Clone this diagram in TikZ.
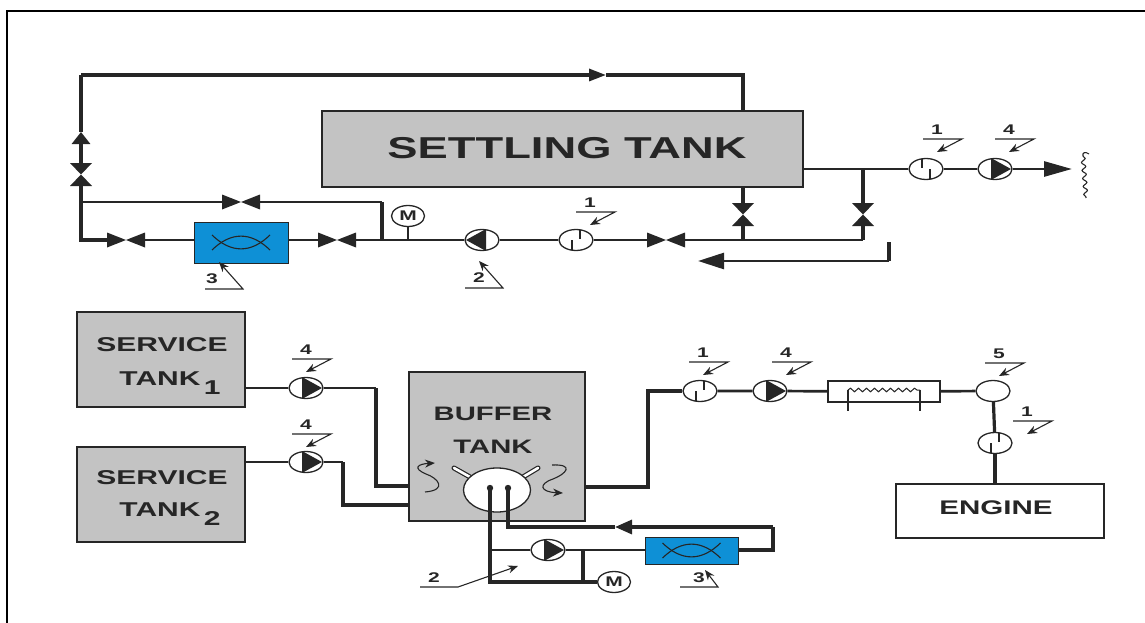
\documentclass[tikz,border=0pt]{standalone}
\usepackage{fontspec}
\setmainfont[FakeStretch=1.5]{Liberation Sans}
\usetikzlibrary{arrows.meta,shapes.geometric,decorations.pathmorphing}

\definecolor{ink}{HTML}{262626}
\definecolor{tankgray}{HTML}{C3C3C3}
\definecolor{coolblue}{HTML}{0E90D6}

\tikzset{
  pipe/.style={draw=ink,line width=2.7pt},
  heavypipe/.style={draw=ink,line width=3.2pt},
  flowtip/.style 2 args={-{Triangle[length=#1,width=#2]}},
  tank/.style={draw=ink,line width=1.4pt,fill=tankgray,inner sep=0pt},
  tanktext/.style={inner sep=0pt,font=\bfseries\fontsize{#1}{#1}\selectfont\color{ink}},
  cooler/.style={draw=ink,line width=1pt,fill=coolblue,inner sep=0pt,
    path picture={\begin{scope}[shift={(path picture bounding box.center)}]
      \draw[ink,line width=1.1pt] (-29,-7.5) .. controls (-10,11) and (10,11) .. (29,-7.5);
      \draw[ink,line width=1.1pt] (-29,7.5) .. controls (-10,-11) and (10,-11) .. (29,7.5);
    \end{scope}}},
  gauge/.style={ellipse,draw=ink,line width=1.3pt,fill=white,inner sep=0pt,minimum width=34pt,minimum height=21pt},
  meterA/.style={gauge,path picture={\begin{scope}[shift={(path picture bounding box.center)}]
      \draw[ink,line width=1.2pt] (-4,0) -- (-4,11) (4,-11) -- (4,-1);
    \end{scope}}},
  meterB/.style={gauge,path picture={\begin{scope}[shift={(path picture bounding box.center)}]
      \draw[ink,line width=1.2pt] (-4,-11) -- (-4,-1) (4,0) -- (4,11);
    \end{scope}}},
  pumpR/.style={gauge,path picture={\begin{scope}[shift={(path picture bounding box.center)}]
      \fill[ink] (-4,-11) -- (16,0) -- (-4,11) -- cycle;
    \end{scope}}},
  pumpL/.style={gauge,path picture={\begin{scope}[shift={(path picture bounding box.center)}]
      \fill[ink] (4,-11) -- (-16,0) -- (4,11) -- cycle;
    \end{scope}}},
  motor/.style={gauge,minimum width=33pt,minimum height=21pt,font=\bfseries\fontsize{14}{14}\selectfont\color{ink}},
  valveH/.style={inner sep=0pt,minimum width=38pt,minimum height=15pt,
    path picture={\begin{scope}[shift={(path picture bounding box.center)}]
      \fill[ink] (-19,-7.5) -- (19,7.5) -- (19,-7.5) -- (-19,7.5) -- cycle;
    \end{scope}}},
  valveV/.style={inner sep=0pt,minimum width=22pt,minimum height=23pt,
    path picture={\begin{scope}[shift={(path picture bounding box.center)}]
      \fill[ink] (-11,-11.5) -- (11,11.5) -- (-11,11.5) -- (11,-11.5) -- cycle;
    \end{scope}}},
  tagnum/.style={inner sep=0pt,font=\bfseries\fontsize{14}{14}\selectfont\color{ink}},
  leader/.style={draw=ink,line width=1.1pt},
  leadtip/.style={-{Stealth[length=10pt,width=8pt]}},
  % tag pointing down and left, placed by the left end of its rule
  pics/tagdown/.style={code={
    \node[tagnum] (-num) at (14,-9) {#1};
    \coordinate (-a) at (0,0);
    \coordinate (-b) at (39,0);
    \coordinate (-c) at (14,13);
    \draw[leader,leadtip] (-a) -- (-b) -- (-c);
  }},
  % tag pointing up and left, placed by the left end of its rule
  pics/tagup/.style 2 args={code={
    \node[tagnum] (-num) at (#2,-10) {#1};
    \coordinate (-a) at (0,0);
    \coordinate (-b) at (38,0);
    \coordinate (-c) at (14,-27);
    \draw[leader,leadtip] (-a) -- (-b) -- (-c);
  }},
}

\begin{document}
\begin{tikzpicture}[x=1pt,y=-1pt]

  \useasboundingbox (0,0) rectangle (1145,623);

  % Frame
  \coordinate (F1) at (7,623);
  \coordinate (F2) at (7,11);
  \coordinate (F3) at (1145,11);
  \draw[black,line width=1.2pt] (F1) -- (F2) -- (F3);

  % Tanks
  \node[tank,minimum width=481pt,minimum height=76pt] (settling) at (562.5,149) {};
  \node[tank,minimum width=168pt,minimum height=95pt] (service1) at (161,359.5) {};
  \node[tank,minimum width=168pt,minimum height=95pt] (service2) at (161,494.5) {};
  \node[tank,minimum width=176pt,minimum height=149pt] (buffer) at (497,446.5) {};
  \node[tank,fill=white,minimum width=208pt,minimum height=54pt] (engine) at (1000,511) {};

  % Tank names
  \node[tanktext=30.2] (settlingname) at (567,148) {SETTLING TANK};
  \node[tanktext=20] (s1a) at (162,345) {SERVICE};
  \node[tanktext=20] (s1b) at (170,383) {TANK\,\raisebox{-9pt}{1}};
  \node[tanktext=20] (s2a) at (162,478) {SERVICE};
  \node[tanktext=20] (s2b) at (170,514) {TANK\,\raisebox{-9pt}{2}};
  \node[tanktext=19.5] (b1) at (493,414) {BUFFER};
  \node[tanktext=19.5] (b2) at (493,447) {TANK};
  \node[tanktext=19.7] (enginename) at (996,508) {ENGINE};

  % Upper line, fittings
  \node[valveV] (vA) at (81,174.5) {};
  \node[valveH] (vB) at (241,202) {};
  \node[valveH] (vC) at (126,240) {};
  \node[cooler,minimum width=94pt,minimum height=41pt] (coolerA) at (241,242.5) {};
  \node[valveH] (vD) at (337,240) {};
  \node[motor] (motorA) at (408,216) {M};
  \node[pumpL] (pumpA) at (482,240) {};
  \node[meterA] (meterC) at (576,240) {};
  \node[valveH] (vE) at (666,240) {};
  \node[valveV] (vF) at (743,214.5) {};
  \node[valveV] (vG) at (863,214.5) {};
  \node[meterB] (meterD) at (926,169) {};
  \node[pumpR] (pumpB) at (995,169) {};

  % Upper line, corners
  \coordinate (topR) at (743,75);
  \coordinate (topL) at (81,75);
  \coordinate (topT) at (606,75);
  \coordinate (topIn) at (743,111);
  \coordinate (leftT) at (81,132);
  \coordinate (leftB) at (81,240);
  \coordinate (forkL) at (81,202);
  \coordinate (forkR) at (382,202);
  \coordinate (forkB) at (382,240);
  \coordinate (motorB) at (408,240);
  \coordinate (outF) at (743,187);
  \coordinate (joinF) at (743,240);
  \coordinate (joinG) at (863,240);
  \coordinate (outG) at (863,169);
  \coordinate (outR) at (803,169);
  \coordinate (endR) at (1072,169);
  \coordinate (retA) at (889,242);
  \coordinate (retB) at (889,261);
  \coordinate (retC) at (698,261);

  % Upper line, pipes
  \draw[heavypipe] (topIn) -- (topR) -- (topT);
  \draw[heavypipe,flowtip={17pt}{12pt}] (topL) -- (topT);
  \draw[heavypipe,flowtip={12pt}{18pt}] (vA) -- (leftT);
  \draw[heavypipe] (leftT) -- (topL);
  \draw[heavypipe] (vA) -- (leftB) -- (vC);
  \draw[pipe] (vC) -- (coolerA.west |- vC);
  \draw[pipe] (forkL) -- (vB) -- (forkR);
  \draw[heavypipe] (forkR) -- (forkB);
  \draw[pipe] (coolerA.east |- vD) -- (vD) -- (forkB) -- (pumpA);
  \draw[pipe] (motorA) -- (motorB);
  \draw[pipe] (pumpA) -- (meterC);
  \draw[pipe] (meterC) -- (vE) -- (joinG);
  \draw[heavypipe] (outF) -- (vF) -- (joinF);
  \draw[heavypipe] (outG) -- (vG) -- (joinG);
  \draw[pipe] (outR) -- (meterD) -- (pumpB);
  \draw[pipe,flowtip={28pt}{15pt}] (pumpB) -- (endR);
  \draw[heavypipe] (retA) -- (retB);
  \draw[pipe,flowtip={26pt}{16pt}] (retB) -- (retC);

  % Outlet mark
  \coordinate (wavA) at (1089,154);
  \coordinate (wavB) at (1083,156);
  \coordinate (wavC) at (1086,198);
  \draw[ink,line width=1.1pt] (wavA) .. controls (1085,151) and (1082,153) .. (wavB);
  \draw[ink,line width=1.1pt,decorate,decoration={snake,segment length=8pt,amplitude=2pt}] (wavB) -- (wavC);

  % Lower line, fittings
  \node[pumpR] (pumpC) at (306,388) {};
  \node[pumpR] (pumpD) at (306,462) {};
  \node[meterA] (meterE) at (700,391) {};
  \node[pumpR] (pumpE) at (770,391) {};
  \node[draw=ink,line width=1.3pt,fill=white,inner sep=0pt,minimum width=112pt,minimum height=21pt] (heater) at (884,391.5) {};
  \node[gauge] (mixer) at (993,391) {};
  \node[meterA] (meterF) at (995,443) {};
  \node[pumpR] (pumpF) at (548,550) {};
  \node[cooler,minimum width=93pt,minimum height=27pt] (coolerB) at (691.5,550.5) {};
  \node[motor] (motorC) at (614,582) {M};

  % Heater coil
  \coordinate (hA) at (848,390);
  \coordinate (hB) at (920,390);
  \coordinate (hC) at (848,411);
  \coordinate (hD) at (920,411);
  \draw[ink,line width=1.2pt] (hA) -- (hC) (hB) -- (hD);
  \draw[ink,line width=1pt,decorate,decoration={snake,segment length=8pt,amplitude=1.8pt}] (hA) -- (hB);

  % Drum stubs and stirring marks
  \coordinate (stA) at (470,477);
  \coordinate (stB) at (454,468);
  \coordinate (stC) at (523,477);
  \coordinate (stD) at (538,468);
  \draw[ink,line width=5pt,line cap=round] (stA) -- (stB) (stC) -- (stD);
  \draw[white,line width=2.6pt,line cap=round] (stA) -- (stB) (stC) -- (stD);
  \node[ellipse,draw=ink,line width=1.3pt,fill=white,inner sep=0pt,minimum width=67pt,minimum height=44pt] (drum) at (497,490) {};
  \draw[ink,line width=1.1pt,-{Stealth[length=10pt,width=8pt]}] (425,492) .. controls (448,490) and (438,478) .. (426,474)
    .. controls (412,468) and (418,464) .. (435,463);
  \draw[ink,line width=1.1pt,-{Stealth[length=10pt,width=8pt]}] (552,465) .. controls (575,464) and (566,474) .. (553,479)
    .. controls (538,484) and (540,492) .. (563,493);

  % Lower line, corners
  \coordinate (c1a) at (376,388);
  \coordinate (c1b) at (376,486);
  \coordinate (c1c) at (409,486);
  \coordinate (c2a) at (343,462);
  \coordinate (c2b) at (343,505);
  \coordinate (c2c) at (409,505);
  \coordinate (c3a) at (585,487);
  \coordinate (c3b) at (648,487);
  \coordinate (c3c) at (648,391);
  \coordinate (dotL) at (490,488);
  \coordinate (dotR) at (508,488);
  \coordinate (c4a) at (490,550);
  \coordinate (c4b) at (490,582);
  \coordinate (c4c) at (583,550);
  \coordinate (c4d) at (583,582);
  \coordinate (c5a) at (508,527);
  \coordinate (c5b) at (615,527);
  \coordinate (c5c) at (773,527);
  \coordinate (c5d) at (773,550);
  \coordinate (c6a) at (245,388);
  \coordinate (c6b) at (245,462);
  \coordinate (m1) at (995,484);

  % Lower line, pipes
  \draw[pipe] (c6a) -- (pumpC) -- (c1a);
  \draw[heavypipe] (c1a) -- (c1b) -- (c1c);
  \draw[pipe] (c6b) -- (pumpD) -- (c2a);
  \draw[heavypipe] (c2a) -- (c2b) -- (c2c);
  \draw[heavypipe] (c3a) -- (c3b) -- (c3c) -- (meterE);
  \draw[pipe] (meterE) -- (pumpE) -- (heater);
  \draw[pipe] (heater) -- (mixer);
  \draw[heavypipe] (mixer) -- (meterF);
  \draw[heavypipe] (meterF) -- (m1);
  \draw[heavypipe] (dotL) -- (c4b) -- (motorC);
  \draw[pipe] (c4a) -- (pumpF);
  \draw[pipe] (pumpF) -- (coolerB.west |- pumpF);
  \draw[heavypipe] (c4c) -- (c4d);
  \draw[heavypipe] (coolerB.east |- c5d) -- (c5d) -- (c5c);
  \draw[heavypipe,flowtip={17pt}{14pt}] (c5c) -- (c5b);
  \draw[heavypipe] (dotR) -- (c5a) -- (c5b);
  \fill[ink] (dotL) circle (3.2pt) (dotR) circle (3.2pt);

  % Hand placed leaders
  \coordinate (lgA) at (420,587);
  \coordinate (lgB) at (458,587);
  \coordinate (lgC) at (518,566);
  \node[tagnum] (tag2c) at (434,578) {2};
  \draw[leader,leadtip] (lgA) -- (lgB) -- (lgC);
  \coordinate (lhA) at (680,587);
  \coordinate (lhB) at (718,587);
  \coordinate (lhC) at (705,570);
  \node[tagnum] (tag3c) at (699,578) {3};
  \draw[leader,leadtip] (lhA) -- (lhB) -- (lhC);

  % Tags
  \pic (t1) at (576,212) {tagdown=1};
  \pic (t2) at (923,139) {tagdown=1};
  \pic (t3) at (995,139) {tagdown=4};
  \pic (t4) at (292,359) {tagdown=4};
  \pic (t5) at (292,434) {tagdown=4};
  \pic (t6) at (689,362) {tagdown=1};
  \pic (t7) at (772,362) {tagdown=4};
  \pic (t8) at (985,363) {tagdown=5};
  \pic (t9) at (1013,421) {tagdown=1};
  \pic (t10) at (205,289) {tagup={3}{7}};
  \pic (t11) at (465,288) {tagup={2}{14}};

\end{tikzpicture}
\end{document}
